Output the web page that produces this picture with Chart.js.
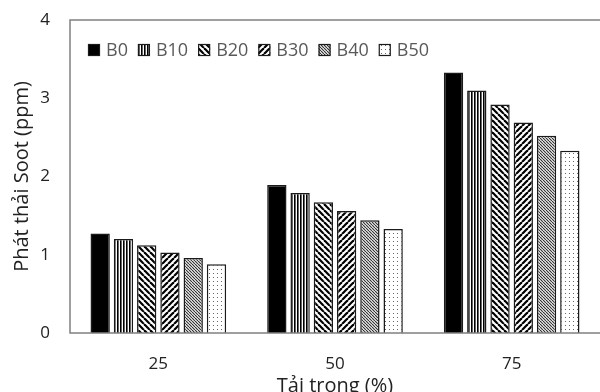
<!DOCTYPE html>
<html><head><meta charset="utf-8">
<script src="https://cdn.jsdelivr.net/npm/chart.js@4"></script>
<style>html,body{margin:0;padding:0;background:#fff}#wrap{width:600px;height:392px}</style>
</head><body><div id="wrap"><canvas id="c"></canvas></div>
<script>
const categories = ['25', '50', '75'];
const seriesNames = ['B0', 'B10', 'B20', 'B30', 'B40', 'B50'];
const B0  = [1.27, 1.89, 3.33];
const B10 = [1.20, 1.79, 3.10];
const B20 = [1.12, 1.67, 2.92];
const B30 = [1.03, 1.56, 2.69];
const B40 = [0.96, 1.44, 2.52];
const B50 = [0.88, 1.33, 2.33];
const yTicks = [0, 1, 2, 3, 4];

function pat(kind){
  const c = document.createElement('canvas');
  const x = c.getContext('2d');
  let s = 6;
  if (kind === 'vert') s = 3;
  if (kind === 'fine') s = 3;
  if (kind === 'dots') s = 4;
  c.width = s; c.height = s;
  x.fillStyle = '#fff'; x.fillRect(0,0,s,s);
  x.fillStyle = '#000'; x.strokeStyle = '#000';
  if (kind === 'vert') { x.fillRect(0,0,1.6,s); }
  else if (kind === 'back' || kind === 'fwd' || kind === 'fine') {
    x.lineWidth = kind === 'fine' ? 1.2 : 2.2;
    if (kind === 'fine') x.strokeStyle = '#333';
    for (let k = -1; k <= 1; k++) {
      x.beginPath();
      if (kind === 'fwd') { x.moveTo(k*s, s); x.lineTo(k*s + s, 0); }
      else { x.moveTo(k*s, 0); x.lineTo(k*s + s, s); }
      x.stroke();
    }
  } else if (kind === 'dots') {
    x.fillStyle = '#666'; x.fillRect(1,1,1,1);
  }
  return x.createPattern(c, 'repeat');
}
const fills = ['#000', pat('vert'), pat('back'), pat('fwd'), pat('fine'), pat('dots')];
const values = [B0, B10, B20, B30, B40, B50];

const boxPlugin = {
  id: 'box',
  afterDraw(chart){
    const {ctx, chartArea:a} = chart;
    ctx.save(); ctx.strokeStyle = '#808080'; ctx.lineWidth = 1.5;
    ctx.beginPath();
    ctx.moveTo(600, a.top); ctx.lineTo(a.left, a.top); ctx.lineTo(a.left, a.bottom); ctx.lineTo(600, a.bottom);
    ctx.stroke();
    // legend
    ctx.font = '18px "Open Sans"';
    ctx.textBaseline = 'middle';
    let x = a.left + 18;
    const cy = a.top + 30;
    chart.data.datasets.forEach(ds => {
      ctx.fillStyle = ds.backgroundColor;
      ctx.fillRect(x, cy - 6, 12, 12);
      ctx.strokeStyle = '#1a1a1a'; ctx.lineWidth = 1.2;
      ctx.strokeRect(x + 0.5, cy - 5.5, 11, 11);
      x += 18;
      ctx.fillStyle = '#595959';
      ctx.fillText(ds.label, x, cy + 1);
      x += ctx.measureText(ds.label).width + 10;
    });
    ctx.restore();
  }
};

new Chart(document.getElementById('c'), {
  type: 'bar',
  data: {
    labels: categories,
    datasets: seriesNames.map((n, i) => ({
      label: n, data: values[i], backgroundColor: fills[i],
      borderColor: '#1a1a1a', borderWidth: 1.5,
      barPercentage: 0.83, categoryPercentage: 0.79
    }))
  },
  options: {
    responsive: true, maintainAspectRatio: false, animation: false,
    layout: { padding: { top: 20, right: 0, left: 0, bottom: 0 } },
    plugins: { legend: { display: false }, tooltip: { enabled: false } },
    scales: {
      x: {
        grid: { display: false, drawTicks: false },
        border: { display: false },
        ticks: { color: '#222', font: { family: 'Open Sans', size: 17 }, padding: 21 },
        title: { display: true, text: 'Tải trọng (%)', color: '#222', font: { family: 'Open Sans', size: 20 }, padding: { top: 0, bottom: -6 } },
        afterFit(s){ s.height = 59; }
      },
      y: {
        min: 0, max: 4,
        afterBuildTicks(s){ s.ticks = yTicks.map(v => ({value: v})); },
        grid: { display: false, drawTicks: false },
        border: { display: false },
        ticks: { color: '#222', font: { family: 'Open Sans', size: 17 }, padding: 20 },
        title: { display: true, text: 'Phát thải Soot (ppm)', color: '#222', font: { family: 'Open Sans', size: 20 }, padding: { top: 10, bottom: 0 } },
        afterFit(s){ s.width = 70; s.paddingTop = 0; s.paddingBottom = 0; }
      }
    }
  },
  plugins: [boxPlugin]
});
</script></body></html>
